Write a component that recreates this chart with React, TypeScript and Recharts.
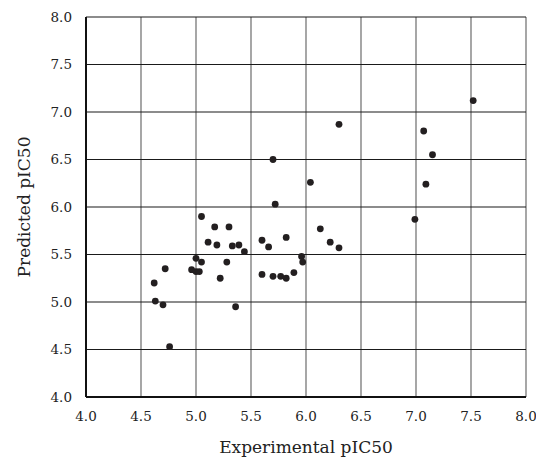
import React from "react";
import {
  ScatterChart,
  Scatter,
  XAxis,
  YAxis,
  CartesianGrid,
  Label,
} from "recharts";

// experimental vs predicted pIC50
const experimental = [
  5.70, 6.04, 5.72, 5.05, 5.17, 5.30, 5.11, 5.19, 5.33, 5.39, 5.44, 5.60, 5.66,
  5.82, 5.96, 5.97, 5.00, 5.05, 5.28, 4.96, 5.00, 5.03, 4.72, 4.62, 5.22, 5.60,
  5.70, 5.77, 5.82, 5.89, 4.63, 4.70, 5.36, 4.76, 7.52, 6.30, 7.07, 7.15, 7.09,
  6.99, 6.13, 6.22, 6.30,
];
const predicted = [
  6.50, 6.26, 6.03, 5.90, 5.79, 5.79, 5.63, 5.60, 5.59, 5.60, 5.53, 5.65, 5.58,
  5.68, 5.48, 5.42, 5.46, 5.42, 5.42, 5.34, 5.32, 5.32, 5.35, 5.20, 5.25, 5.29,
  5.27, 5.27, 5.25, 5.31, 5.01, 4.97, 4.95, 4.53, 7.12, 6.87, 6.80, 6.55, 6.24,
  5.87, 5.77, 5.63, 5.57,
];
const ticks = [4.0, 4.5, 5.0, 5.5, 6.0, 6.5, 7.0, 7.5, 8.0];

const points = experimental.map((x, i) => ({ x, y: predicted[i] }));

const font = "'DejaVu Serif', 'Liberation Serif', serif";
const tickStyle = { fontSize: 13.5, fill: "#222", fontFamily: font };

const Dot = (props: any) => (
  <circle cx={props.cx} cy={props.cy} r={3.4} fill="#231f20" />
);

export default function App() {
  return (
    <div style={{ position: "absolute", left: 0, top: 0, background: "#fff" }}>
      <ScatterChart
        width={536}
        height={462}
        margin={{ top: 17, right: 10, bottom: 0, left: 0 }}
      >
        <CartesianGrid horizontal={false} stroke="#777" strokeWidth={1.3} />
        <CartesianGrid vertical={false} stroke="#1a1a1a" strokeWidth={1.2} />
        <XAxis
          type="number"
          dataKey="x"
          domain={[4, 8]}
          ticks={ticks}
          tickFormatter={(v) => v.toFixed(1)}
          height={65}
          axisLine={{ stroke: "#111", strokeWidth: 2 }}
          tickLine={false}
          tick={tickStyle}
          tickMargin={8}
          interval={0}
        >
          <Label
            value="Experimental pIC50"
            position="insideBottom"
            offset={9}
            style={{ fontSize: 17, fill: "#222", fontFamily: font }}
          />
        </XAxis>
        <YAxis
          type="number"
          dataKey="y"
          domain={[4, 8]}
          ticks={ticks}
          tickFormatter={(v) => v.toFixed(1)}
          width={86}
          axisLine={{ stroke: "#111", strokeWidth: 2 }}
          tickLine={false}
          tick={tickStyle}
          tickMargin={8}
          interval={0}
        >
          <Label
            value="Predicted pIC50"
            angle={-90}
            position="insideLeft"
            offset={24}
            style={{
              fontSize: 17,
              fill: "#222",
              fontFamily: font,
              textAnchor: "middle",
            }}
          />
        </YAxis>
        <Scatter data={points} shape={Dot} isAnimationActive={false} />
      </ScatterChart>
    </div>
  );
}
